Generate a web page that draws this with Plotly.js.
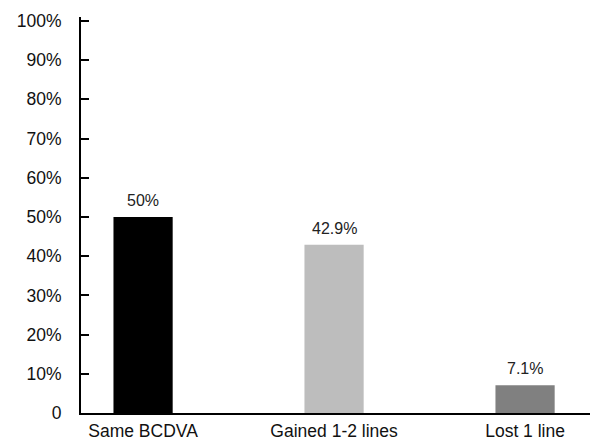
<!DOCTYPE html>
<html>
<head>
<meta charset="utf-8">
<script src="https://cdn.plot.ly/plotly-3.0.1.min.js"></script>
<style>
  html, body { margin: 0; padding: 0; background: #fff; }
  #chart { width: 590px; height: 441px; }
</style>
</head>
<body>
<div id="chart"></div>
<script>
// BCDVA change outcome shares
const categories = ["Same BCDVA", "Gained 1-2 lines", "Lost 1 line"];
const percentages = [50, 42.9, 7.1];
const valueLabels = ["50%", "42.9%", "7.1%"];
const barColors = ["#000000", "#bdbdbd", "#808080"];
const yTickVals = [0, 10, 20, 30, 40, 50, 60, 70, 80, 90, 100];
const yTickText = ["0", "10%", "20%", "30%", "40%", "50%", "60%", "70%", "80%", "90%", "100%"];

const fontFamily = "Liberation Sans, Arial, sans-serif";

const trace = {
  type: "bar",
  x: categories,
  y: percentages,
  marker: { color: barColors, line: { width: 0 } },
  hoverinfo: "skip"
};

const annotations = categories.map((c, i) => ({
  x: c,
  y: percentages[i],
  xref: "x",
  yref: "y",
  text: valueLabels[i],
  showarrow: false,
  yanchor: "bottom",
  yshift: 6,
  font: { family: fontFamily, size: 16, color: "#222" }
}));

const layout = {
  width: 590,
  height: 441,
  margin: { l: 81, r: 0, t: 17, b: 28, pad: 0 },
  paper_bgcolor: "#fff",
  plot_bgcolor: "#fff",
  showlegend: false,
  bargap: 0.69,
  xaxis: {
    range: [-0.325, 2.34],
    showgrid: false,
    zeroline: false,
    showline: true,
    linecolor: "#000",
    linewidth: 2,
    ticks: "",
    tickfont: { family: fontFamily, size: 17.5, color: "#111" },
    ticklabelstandoff: 1,
    fixedrange: true
  },
  yaxis: {
    range: [0, 101],
    tickvals: yTickVals,
    ticktext: yTickText,
    showgrid: false,
    zeroline: false,
    showline: true,
    linecolor: "#000",
    linewidth: 2,
    ticks: "inside",
    ticklen: 8,
    tickwidth: 2,
    tickcolor: "#000",
    tickfont: { family: fontFamily, size: 17.5, color: "#111" },
    ticklabelstandoff: 14,
    fixedrange: true
  },
  annotations: annotations
};

Plotly.newPlot("chart", [trace], layout, { displayModeBar: false, staticPlot: true });
</script>
</body>
</html>
